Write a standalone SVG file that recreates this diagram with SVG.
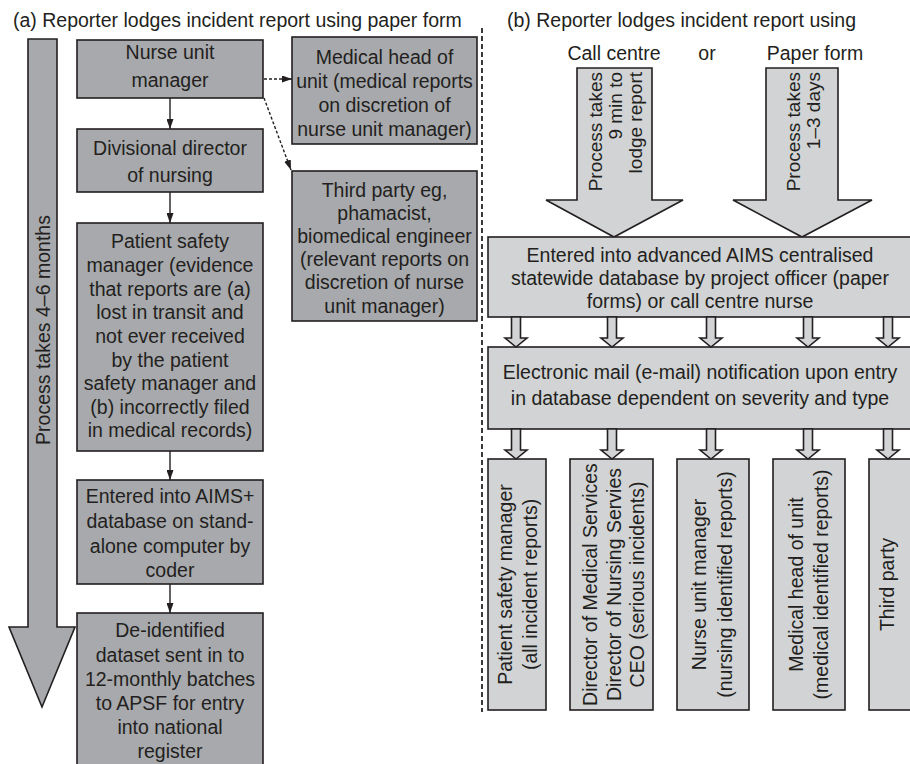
<svg xmlns="http://www.w3.org/2000/svg" width="910" height="764" viewBox="0 0 910 764">
<style>
.t{font-family:"Liberation Sans",Arial,sans-serif;font-size:19.5px;fill:#231f20;text-anchor:middle}
.ts{font-family:"Liberation Sans",Arial,sans-serif;font-size:19.5px;fill:#231f20}
.te{font-family:"Liberation Sans",Arial,sans-serif;font-size:19px;fill:#231f20;text-anchor:end}
.dk{fill:#a7a9ac;stroke:#231f20;stroke-width:1.6}
.lt{fill:#d1d3d4;stroke:#231f20;stroke-width:1.6}
.ln{stroke:#231f20;stroke-width:1.4;fill:none}
.dot{stroke:#231f20;stroke-width:1.4;fill:none;stroke-dasharray:3 2}
</style>
<defs>
<marker id="ah" markerUnits="userSpaceOnUse" markerWidth="10" markerHeight="7" viewBox="0 0 10 7" refX="10" refY="3.5" orient="auto">
<path d="M0,0 L10,3.5 L0,7 z" fill="#231f20"/>
</marker>
<path id="ba" d="M-4.5,0 V21 H-11 L0,30 L11,21 H4.5 V0 Z" class="lt"/>
</defs>

<!-- titles -->
<text class="ts" x="13" y="27">(a)  Reporter lodges incident report using paper form</text>
<text class="ts" x="507" y="27">(b)  Reporter lodges incident report using</text>
<text class="t" x="614" y="60">Call centre</text>
<text class="t" x="707" y="60">or</text>
<text class="t" x="815" y="60">Paper form</text>

<!-- divider -->
<line x1="482" y1="28" x2="482" y2="712" stroke="#3a3a3a" stroke-width="2" stroke-dasharray="5 3"/>

<!-- left big arrow -->
<g id="time-arrow-a">
<polygon class="dk" points="28,39 57,39 57,627 75,627 42,707 9,627 28,627"/>
<text class="t" transform="translate(49.5,330) rotate(-90)">Process takes 4–6 months</text>
</g>

<g id="nurse-unit-manager">
<rect class="dk" x="77" y="40" width="186" height="58"/>
<text class="t" x="170" y="59">Nurse unit</text>
<text class="t" x="170" y="87">manager</text>
</g>

<g id="divisional-director">
<rect class="dk" x="77" y="129" width="186" height="63"/>
<text class="t" x="170" y="155">Divisional director</text>
<text class="t" x="170" y="182">of nursing</text>
</g>

<g id="patient-safety-manager-a">
<rect class="dk" x="77" y="223" width="186" height="228"/>
<text class="t" x="170" y="248">Patient safety</text>
<text class="t" x="170" y="272">manager (evidence</text>
<text class="t" x="170" y="296">that reports are (a)</text>
<text class="t" x="170" y="319">lost in transit and</text>
<text class="t" x="170" y="343">not ever received</text>
<text class="t" x="170" y="367">by the patient</text>
<text class="t" x="170" y="390">safety manager and</text>
<text class="t" x="170" y="414">(b) incorrectly filed</text>
<text class="t" x="170" y="437">in medical records)</text>
</g>

<g id="aims-plus">
<rect class="dk" x="77" y="480" width="186" height="104"/>
<text class="t" x="170" y="503">Entered into AIMS+</text>
<text class="t" x="170" y="528">database on stand-</text>
<text class="t" x="170" y="553">alone computer by</text>
<text class="t" x="170" y="577">coder</text>
</g>

<g id="deidentified">
<rect class="dk" x="77" y="613" width="186" height="160"/>
<text class="t" x="170" y="637">De-identified</text>
<text class="t" x="170" y="662">dataset sent in to</text>
<text class="t" x="170" y="686">12-monthly batches</text>
<text class="t" x="170" y="710">to APSF for entry</text>
<text class="t" x="170" y="734">into national</text>
<text class="t" x="170" y="758">register</text>
</g>

<g id="medical-head-a">
<rect class="dk" x="292" y="37" width="185" height="107"/>
<text class="t" x="384.5" y="64">Medical head of</text>
<text class="t" x="384.5" y="88">unit (medical reports</text>
<text class="t" x="384.5" y="112">on discretion of</text>
<text class="t" x="384.5" y="136">nurse unit manager)</text>
</g>

<g id="third-party-a">
<rect class="dk" x="292" y="171" width="185" height="150"/>
<text class="t" x="384.5" y="197">Third party eg,</text>
<text class="t" x="384.5" y="220">phamacist,</text>
<text class="t" x="384.5" y="243">biomedical engineer</text>
<text class="t" x="384.5" y="266">(relevant reports on</text>
<text class="t" x="384.5" y="289">discretion of nurse</text>
<text class="t" x="384.5" y="313">unit manager)</text>
</g>

<!-- right side -->
<g id="call-centre-arrow">
<polygon class="lt" points="577,68 652,68 652,200 683,200 614,237 546,200 577,200"/>
<text class="te" transform="translate(602,72) rotate(-90)">Process takes</text>
<text class="te" transform="translate(622,72) rotate(-90)">9 min to</text>
<text class="te" transform="translate(642,72) rotate(-90)">lodge report</text>
</g>

<g id="paper-form-arrow">
<polygon class="lt" points="766,68 838,68 838,200 872,200 802,237 733,200 766,200"/>
<text class="te" transform="translate(800,72) rotate(-90)">Process takes</text>
<text class="te" transform="translate(820,72) rotate(-90)">1–3 days</text>
</g>

<g id="advanced-aims">
<rect class="lt" x="488" y="237" width="424" height="80"/>
<text class="t" x="700" y="262">Entered into advanced AIMS centralised</text>
<text class="t" x="700" y="285">statewide database by project officer (paper</text>
<text class="t" x="700" y="308">forms) or call centre nurse</text>
</g>

<g id="email-notification">
<rect class="lt" x="488" y="347" width="424" height="82"/>
<text class="t" x="700" y="379">Electronic mail (e-mail) notification upon entry</text>
<text class="t" x="700" y="405">in database dependent on severity and type</text>
</g>

<g id="patient-safety-manager-b">
<rect class="lt" x="488" y="459" width="58" height="251"/>
<text class="t" transform="translate(512,584.5) rotate(-90)">Patient safety manager</text>
<text class="t" transform="translate(537,584.5) rotate(-90)">(all incident reports)</text>
</g>

<g id="directors-ceo">
<rect class="lt" x="570" y="459" width="83" height="251"/>
<text class="t" transform="translate(597,584.5) rotate(-90)">Director of Medical Services</text>
<text class="t" transform="translate(621,584.5) rotate(-90)">Director of Nursing Servies</text>
<text class="t" transform="translate(644,584.5) rotate(-90)">CEO (serious incidents)</text>
</g>

<g id="nurse-unit-manager-b">
<rect class="lt" x="677" y="459" width="72" height="251"/>
<text class="t" transform="translate(706,584.5) rotate(-90)">Nurse unit manager</text>
<text class="t" transform="translate(732,584.5) rotate(-90)">(nursing identified reports)</text>
</g>

<g id="medical-head-b">
<rect class="lt" x="773" y="459" width="72" height="251"/>
<text class="t" transform="translate(803,584.5) rotate(-90)">Medical head of unit</text>
<text class="t" transform="translate(828,584.5) rotate(-90)">(medical identified reports)</text>
</g>

<g id="third-party-b">
<rect class="lt" x="869" y="459" width="43" height="251"/>
<text class="t" transform="translate(894,584.5) rotate(-90)">Third party</text>
</g>

<g id="connectors">
<line class="ln" x1="170" y1="98" x2="170" y2="129" marker-end="url(#ah)"/>
<line class="ln" x1="170" y1="192" x2="170" y2="223" marker-end="url(#ah)"/>
<line class="ln" x1="170" y1="451" x2="170" y2="480" marker-end="url(#ah)"/>
<line class="ln" x1="170" y1="584" x2="170" y2="613" marker-end="url(#ah)"/>
<line class="dot" x1="264" y1="79" x2="292" y2="79" marker-end="url(#ah)"/>
<line class="dot" x1="264" y1="98" x2="291" y2="170" marker-end="url(#ah)"/>
<use href="#ba" x="516" y="317"/>
<use href="#ba" x="612" y="317"/>
<use href="#ba" x="711" y="317"/>
<use href="#ba" x="808" y="317"/>
<use href="#ba" x="888" y="317"/>
<use href="#ba" x="516" y="429"/>
<use href="#ba" x="612" y="429"/>
<use href="#ba" x="711" y="429"/>
<use href="#ba" x="808" y="429"/>
<use href="#ba" x="888" y="429"/>
</g>
</svg>
